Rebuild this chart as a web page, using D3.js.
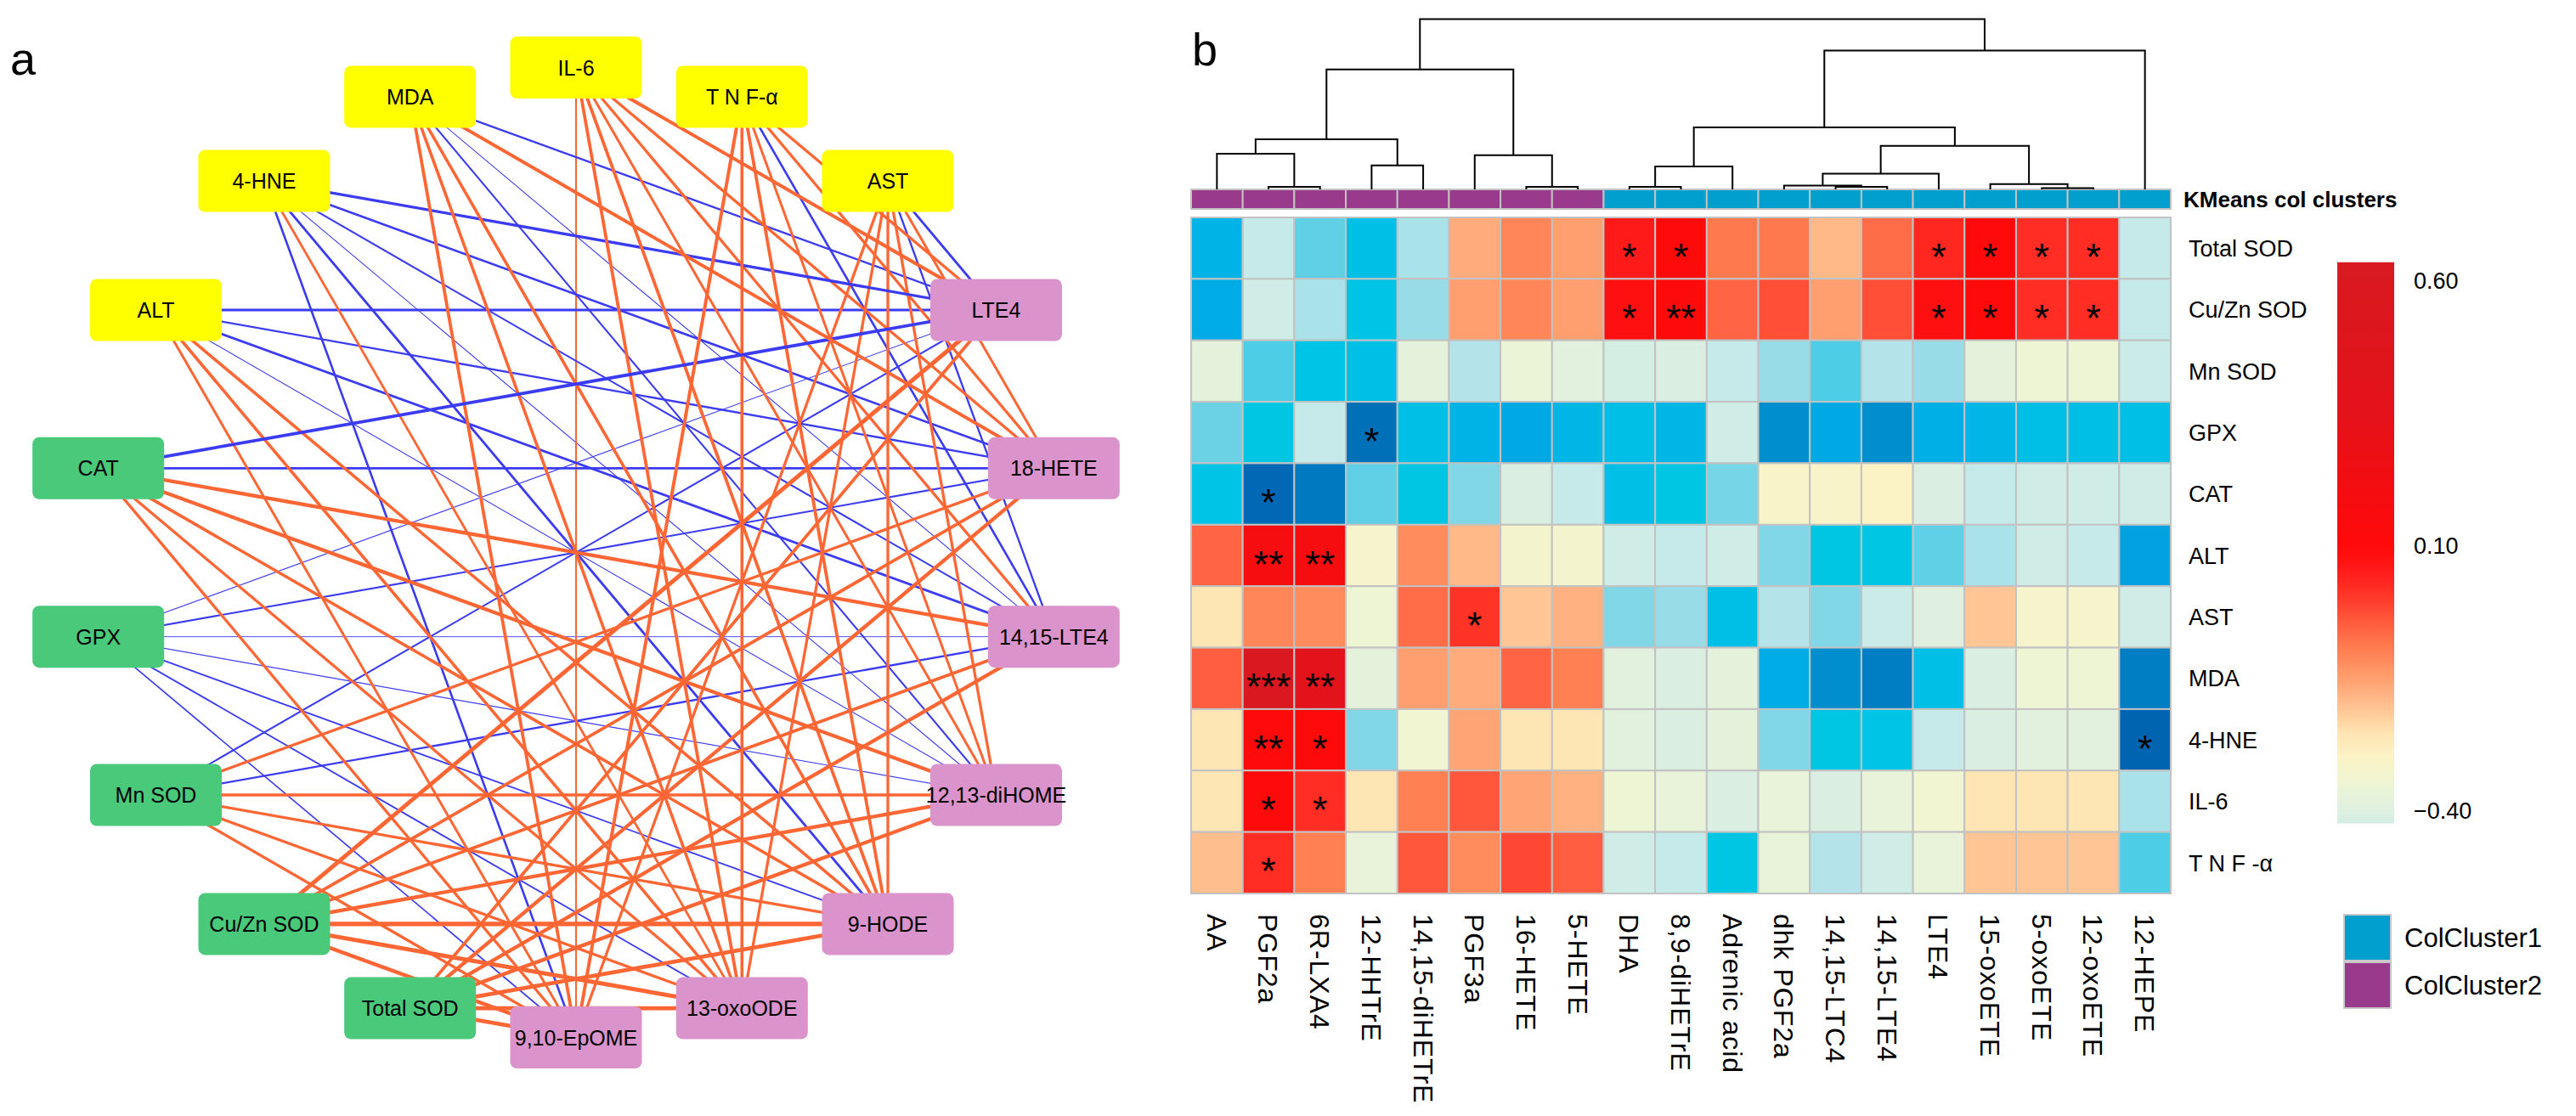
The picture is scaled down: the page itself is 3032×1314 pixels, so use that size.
<!DOCTYPE html>
<html><head><meta charset="utf-8">
<script src="https://cdn.jsdelivr.net/npm/d3@7"></script>
<style>body{margin:0;background:#fff} svg{display:block} text{font-family:"Liberation Sans",Arial,Helvetica,sans-serif}</style>
</head><body><svg id="c" width="3032" height="1314"></svg>
<script>
// ---------------- DATA ----------------
const netOrder = ["IL-6","T N F-α","AST","LTE4","18-HETE","14,15-LTE4","12,13-diHOME","9-HODE","13-oxoODE","9,10-EpOME","Total SOD","Cu/Zn SOD","Mn SOD","GPX","CAT","ALT","4-HNE","MDA"];
const netGroup = ["inflam","inflam","inflam","metab","metab","metab","metab","metab","metab","metab","antiox","antiox","antiox","antiox","antiox","inflam","inflam","inflam"];
const indexNames = ["IL-6","T N F-α","AST","ALT","4-HNE","MDA","CAT","GPX","Mn SOD","Cu/Zn SOD","Total SOD"];
const metabNames = ["LTE4","18-HETE","14,15-LTE4","12,13-diHOME","9-HODE","13-oxoODE","9,10-EpOME"];
const netCorr = [
  [ 0.62, 0.55, 0.55, 0.52, 0.60, 0.60, 0.42],
  [ 0.55, 0.55,-0.48, 0.52, 0.60, 0.58, 0.62],
  [-0.50, 0.52,-0.45, 0.55, 0.55, 0.55, 0.55],
  [-0.50,-0.45,-0.50,-0.32, 0.58, 0.58, 0.52],
  [-0.55,-0.48,-0.42,-0.32,-0.50, 0.50,-0.48],
  [-0.45, 0.62,-0.32,-0.42, 0.58, 0.58, 0.60],
  [-0.60,-0.50, 0.65, 0.65, 0.58, 0.55, 0.55],
  [-0.32,-0.42,-0.30,-0.33,-0.40,-0.40,-0.38],
  [-0.42, 0.55,-0.45, 0.55, 0.55, 0.55, 0.55],
  [ 0.72, 0.60, 0.60, 0.66, 0.75, 0.72, 0.66],
  [ 0.60, 0.66, 0.66, 0.66, 0.70, 0.70, 0.70]
];

const heatCols = ["AA","PGF2a","6R-LXA4","12-HHTrE","14,15-diHETrE","PGF3a","16-HETE","5-HETE","DHA","8,9-diHETrE","Adrenic acid","dhk PGF2a","14,15-LTC4","14,15-LTE4","LTE4","15-oxoETE","5-oxoETE","12-oxoETE","12-HEPE"];
const heatRows = ["Total SOD","Cu/Zn SOD","Mn SOD","GPX","CAT","ALT","AST","MDA","4-HNE","IL-6","T N F -α"];
const heatValues = [
  [-0.67,-0.45,-0.55,-0.63,-0.48,-0.17,-0.11,-0.15, 0.05, 0.12,-0.09,-0.09,-0.19,-0.07, 0.03, 0.10, 0.02, 0.02,-0.45],
  [-0.69,-0.43,-0.48,-0.61,-0.50,-0.15,-0.11,-0.15, 0.08, 0.12,-0.06,-0.03,-0.15,-0.03, 0.08, 0.12, 0.02, 0.02,-0.45],
  [-0.38,-0.56,-0.61,-0.63,-0.38,-0.47,-0.36,-0.39,-0.42,-0.41,-0.45,-0.50,-0.56,-0.47,-0.50,-0.38,-0.35,-0.35,-0.44],
  [-0.54,-0.60,-0.45,-0.81,-0.63,-0.67,-0.70,-0.66,-0.63,-0.66,-0.43,-0.75,-0.70,-0.75,-0.68,-0.66,-0.63,-0.63,-0.63],
  [-0.61,-0.83,-0.79,-0.55,-0.60,-0.52,-0.41,-0.45,-0.63,-0.60,-0.53,-0.31,-0.31,-0.30,-0.41,-0.45,-0.43,-0.43,-0.43],
  [-0.06, 0.18, 0.18,-0.32,-0.12,-0.19,-0.33,-0.33,-0.43,-0.45,-0.43,-0.52,-0.60,-0.60,-0.55,-0.48,-0.43,-0.45,-0.71],
  [-0.26,-0.11,-0.12,-0.35,-0.07, 0.01,-0.21,-0.18,-0.52,-0.50,-0.63,-0.47,-0.52,-0.44,-0.40,-0.21,-0.32,-0.32,-0.43],
  [-0.05, 0.60, 0.40,-0.38,-0.15,-0.17,-0.06,-0.10,-0.39,-0.41,-0.38,-0.69,-0.75,-0.78,-0.63,-0.41,-0.35,-0.35,-0.78],
  [-0.26, 0.12, 0.12,-0.52,-0.34,-0.16,-0.26,-0.26,-0.39,-0.41,-0.38,-0.52,-0.60,-0.61,-0.45,-0.41,-0.39,-0.39,-0.84],
  [-0.26, 0.12, 0.02,-0.26,-0.10,-0.04,-0.16,-0.18,-0.35,-0.37,-0.41,-0.37,-0.41,-0.37,-0.34,-0.26,-0.26,-0.26,-0.48],
  [-0.20, 0.02,-0.10,-0.37,-0.04,-0.12,-0.02,-0.05,-0.43,-0.45,-0.60,-0.37,-0.47,-0.43,-0.37,-0.21,-0.21,-0.21,-0.56]
];
const heatStars = [
  ["","","","","","","","","*","*","","","","","*","*","*","*",""],
  ["","","","","","","","","*","**","","","","","*","*","*","*",""],
  ["","","","","","","","","","","","","","","","","","",""],
  ["","","","*","","","","","","","","","","","","","","",""],
  ["","*","","","","","","","","","","","","","","","","",""],
  ["","**","**","","","","","","","","","","","","","","","",""],
  ["","","","","","*","","","","","","","","","","","","",""],
  ["","***","**","","","","","","","","","","","","","","","",""],
  ["","**","*","","","","","","","","","","","","","","","","*"],
  ["","*","*","","","","","","","","","","","","","","","",""],
  ["","*","","","","","","","","","","","","","","","","",""]
];
const colCluster = [2,2,2,2,2,2,2,2,1,1,1,1,1,1,1,1,1,1,1];
const dendroMerge = [
  [-2,-3,0.010],[-7,-8,0.010],[-9,-10,0.010],[-13,-14,0.010],[-17,-18,0.002],
  [-12,4,0.018],[-16,5,0.026],[6,-15,0.088],[3,-11,0.130],[-4,-5,0.136],
  [-6,2,0.196],[-1,1,0.205],[8,7,0.251],[12,10,0.290],[9,13,0.360],
  [14,11,0.701],[15,-19,0.813],[16,17,0.998]
];
const colorStops = [-0.85,-0.80,-0.75,-0.70,-0.65,-0.60,-0.55,-0.50,-0.45,-0.40,-0.35,-0.30,-0.25,-0.20,-0.15,-0.10,-0.05,0.00,0.05,0.10,0.35,0.63];
const colorRange = ["#0060AE","#0074BC","#008ECE","#00A8E4","#00BAE8","#00C6E4","#60D0E6","#98DCE8","#C6EAEA","#DFF0E0","#EEF5D4","#FBF3C6","#FFE2B0","#FFBE8E","#FF9E6E","#FF8052","#FF5E40","#FF3A2A","#FF1A1A","#FF0A0A","#E4121A","#D81A20"];
const colorbarTicks = [0.60, 0.10, -0.40];
const colorbarDomain = [-0.425, 0.634];
const legendLabels = ["ColCluster1","ColCluster2"];

// ---------------- DRAW ----------------
const svg = d3.select("#c");

svg.append("text").attr("x",12).attr("y",88).attr("font-size",54).text("a");
svg.append("text").attr("x",1403).attr("y",77).attr("font-size",54).text("b");

// ---- network ----
const cx = 678, cy = 650.5, R = 571;
const ang = d3.scaleLinear().domain([0, netOrder.length]).range([0, 2*Math.PI]);
const pos = {};
netOrder.forEach((n,i)=>{ pos[n] = [cx + R*Math.sin(ang(i)), cy - R*Math.cos(ang(i))]; });
const fillOf = d3.scaleOrdinal().domain(["inflam","antiox","metab"]).range(["#FFFF00","#4AC97A","#DA94CB"]);
const widthOf = d3.scaleLinear().domain([0.3, 0.75]).range([0.9, 5.2]).clamp(true);
const edges = [];
indexNames.forEach((a,i)=>metabNames.forEach((b,j)=>edges.push({a,b,r:netCorr[i][j]})));
edges.sort((p,q)=>Math.abs(p.r)-Math.abs(q.r));
svg.append("g").selectAll("line").data(edges).join("line")
  .attr("x1",d=>pos[d.a][0]).attr("y1",d=>pos[d.a][1])
  .attr("x2",d=>pos[d.b][0]).attr("y2",d=>pos[d.b][1])
  .attr("stroke",d=>d.r>0?"#FF6633":"#3B3BF2")
  .attr("stroke-width",d=>widthOf(Math.abs(d.r)));
const bw=155, bh=73;
const ng = svg.append("g").selectAll("g").data(netOrder).join("g")
  .attr("transform",d=>`translate(${pos[d][0]},${pos[d][1]})`);
ng.append("rect").attr("x",-bw/2).attr("y",-bh/2).attr("width",bw).attr("height",bh).attr("rx",8)
  .attr("fill",(d,i)=>fillOf(netGroup[i]));
ng.append("text").attr("text-anchor","middle").attr("dy","0.36em").attr("font-size",25).attr("fill","#000").text(d=>d);

// ---- heatmap ----
const x = d3.scaleBand().domain(heatCols).range([1402, 2555]);
const y = d3.scaleBand().domain(heatRows).range([256, 1052]);
const color = d3.scaleLinear().domain(colorStops).range(colorRange).clamp(true);
const cells = [];
heatRows.forEach((r,i)=>heatCols.forEach((c,j)=>cells.push({r,c,v:heatValues[i][j],s:heatStars[i][j]})));
const hg = svg.append("g");
hg.selectAll("rect").data(cells).join("rect")
  .attr("x",d=>x(d.c)).attr("y",d=>y(d.r)).attr("width",x.bandwidth()).attr("height",y.bandwidth())
  .attr("fill",d=>color(d.v)).attr("stroke","#C2C2C2").attr("stroke-width",2);
hg.selectAll("text").data(cells.filter(d=>d.s)).join("text")
  .attr("x",d=>x(d.c)+x.bandwidth()/2).attr("y",d=>y(d.r)+y.bandwidth()/2)
  .attr("dy","0.57em").attr("text-anchor","middle").attr("font-size",45).text(d=>d.s);

svg.append("g").selectAll("text").data(heatRows).join("text")
  .attr("x",2576).attr("y",d=>y(d)+y.bandwidth()/2).attr("dy","0.36em").attr("font-size",27).text(d=>d);
svg.append("g").selectAll("text").data(heatCols).join("text")
  .attr("transform",d=>`translate(${x(d)+x.bandwidth()/2},1076) rotate(90)`)
  .attr("dy","0.36em").attr("font-size",32).attr("letter-spacing",1).text(d=>d);

const clColor = d3.scaleOrdinal().domain([1,2]).range(["#009FCD","#9A3A8C"]);
svg.append("g").selectAll("rect").data(heatCols).join("rect")
  .attr("x",d=>x(d)).attr("y",223).attr("width",x.bandwidth()).attr("height",23)
  .attr("fill",(d,i)=>clColor(colCluster[i])).attr("stroke","#C2C2C2").attr("stroke-width",2);
svg.append("text").attr("x",2570).attr("y",244).attr("font-size",26).attr("font-weight","bold").text("KMeans col clusters");

const hy = d3.scaleLinear().domain([0,1]).range([222, 22]);
const nodeX = [], nodeH = [];
const getX = k => k<0 ? x(heatCols[-k-1])+x.bandwidth()/2 : nodeX[k-1];
const getH = k => k<0 ? 0 : nodeH[k-1];
const dg = svg.append("g").attr("fill","none").attr("stroke","#000").attr("stroke-width",2);
dendroMerge.forEach((m,i)=>{
  const x1=getX(m[0]), x2=getX(m[1]);
  nodeX[i]=(x1+x2)/2; nodeH[i]=m[2];
  dg.append("path").attr("d",`M${x1},${hy(getH(m[0]))+(m[0]<0?1:0)}V${hy(m[2])}H${x2}V${hy(getH(m[1]))+(m[1]<0?1:0)}`);
});

const cbX=2751, cbW=67;
const cbY = d3.scaleLinear().domain([-0.40,0.60]).range([954,330]);
const defs = svg.append("defs");
const grad = defs.append("linearGradient").attr("id","cb").attr("x1",0).attr("y1",1).attr("x2",0).attr("y2",0);
d3.range(0,1.0001,0.02).forEach(t=>{
  const v = colorbarDomain[0]+t*(colorbarDomain[1]-colorbarDomain[0]);
  grad.append("stop").attr("offset",t).attr("stop-color",color(v));
});
svg.append("rect").attr("x",cbX).attr("y",cbY(colorbarDomain[1])).attr("width",cbW)
  .attr("height",cbY(colorbarDomain[0])-cbY(colorbarDomain[1])).attr("fill","url(#cb)");
svg.append("g").selectAll("text").data(colorbarTicks).join("text")
  .attr("x",2841).attr("y",d=>cbY(d)).attr("dy","0.36em").attr("font-size",27)
  .text(d=>d3.format(".2f")(d).replace("-","\u2212"));

const lg = svg.append("g").selectAll("g").data(legendLabels).join("g")
  .attr("transform",(d,i)=>`translate(2759,${1077+i*56})`);
lg.append("rect").attr("width",55).attr("height",54).attr("fill",(d,i)=>clColor(i+1)).attr("stroke","#C8C8C8").attr("stroke-width",2);
lg.append("text").attr("x",71).attr("y",27).attr("dy","0.36em").attr("font-size",31).text(d=>d);
</script></body></html>
